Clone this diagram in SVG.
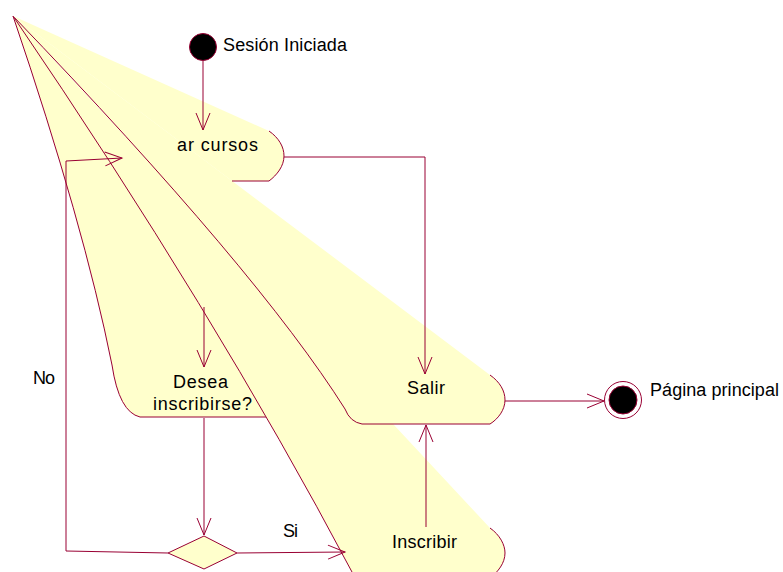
<svg xmlns="http://www.w3.org/2000/svg" width="783" height="572" viewBox="0 0 783 572">
<style>
.fill{fill:#ffffcc;stroke:none}
.ln{fill:none;stroke:#990033;stroke-width:1}
.con{fill:none;stroke:#990033;stroke-width:1;marker-end:url(#arr)}
.t{font-family:"Liberation Sans",Arial,sans-serif;font-size:18px;fill:#000}
</style>
<defs>
<marker id="arr" markerUnits="userSpaceOnUse" markerWidth="40" markerHeight="40" refX="0" refY="0" viewBox="-20 -20 40 40" orient="auto" overflow="visible">
<path d="M-17,-7 L0,0 L-17,7" fill="none" stroke="#990033" stroke-width="1"/>
</marker>
</defs>
<rect width="783" height="572" fill="#fff"/>
<g id="desea">
<path class="fill" d="M13,16 Q84,225 112,365 Q119,412 140,417 L285,417 L285,360 Z"/>
<path class="ln" d="M13,16 Q84,225 112,365 Q119,412 140,417 L285,417"/>
<text class="t" x="173" y="388" textLength="55">Desea</text>
<text class="t" x="153" y="410" textLength="99">inscribirse?</text>
</g>
<g id="inscribir">
<path class="fill" d="M13,16 L490,528 C500,535 505,545 505,553 C505,563 498,572 490,578 L360,585 L352,572 Q214,311 13,16 Z"/>
<path class="ln" d="M490,528 C500,535 505,545 505,553 C505,563 498,572 490,578"/>
<path class="ln" d="M13,16 Q214,311 352,572 L358,585"/>
<text class="t" x="392" y="548" textLength="65">Inscribir</text>
</g>
<g id="salir">
<path class="fill" d="M13,16 L490,375 C500,382 505,391 505,400 C505,410 498,419 490,424 L362,424 Q350,422 345,409 Q258,271 13,16 Z"/>
<path class="ln" d="M490,375 C500,382 505,391 505,400 C505,410 498,419 490,424 L362,424 Q350,422 345,409 Q258,271 13,16"/>
<text class="t" x="407" y="394" textLength="38">Salir</text>
</g>
<g id="consultar">
<path class="fill" d="M13,16 L269,131 C279,138 284,147 284,156 C284,166 277,175 269,181 L232,181 Z"/>
<path class="ln" d="M269,131 C279,138 284,147 284,156 C284,166 277,175 269,181 L232,181"/>
<text class="t" x="177" y="151" textLength="81">ar cursos</text>
</g>
<g id="decision">
<path d="M204,536 L237,553 L204,569 L168,553 Z" fill="#ffffcc" stroke="#990033" stroke-width="1"/>
</g>
<g id="start">
<circle cx="203" cy="47" r="13.5" fill="#000" stroke="#990033" stroke-width="1"/>
<text class="t" x="223" y="51" textLength="124">Sesión Iniciada</text>
</g>
<g id="end">
<circle cx="623" cy="400" r="18.5" fill="#fff" stroke="#990033" stroke-width="1"/>
<circle cx="623" cy="400" r="14" fill="#000" stroke="#990033" stroke-width="1"/>
<text class="t" x="650" y="396" textLength="129">Página principal</text>
</g>
<g id="connectors">
<path class="con" d="M203,61 L203,130"/>
<path class="con" d="M284,157 L425,157 L425,374"/>
<path class="con" d="M204,307 L204,367"/>
<path class="con" d="M204,418 L204,535"/>
<path class="con" d="M237,553 L345,552"/>
<path class="con" d="M168,553 L66,551 L66,161 L122,158"/>
<path class="con" d="M505,401 L604,401"/>
<path class="con" d="M426,527 L426,425"/>
<text class="t" x="33" y="384" textLength="22">No</text>
<text class="t" x="283" y="537" textLength="15">Si</text>
</g>
</svg>
